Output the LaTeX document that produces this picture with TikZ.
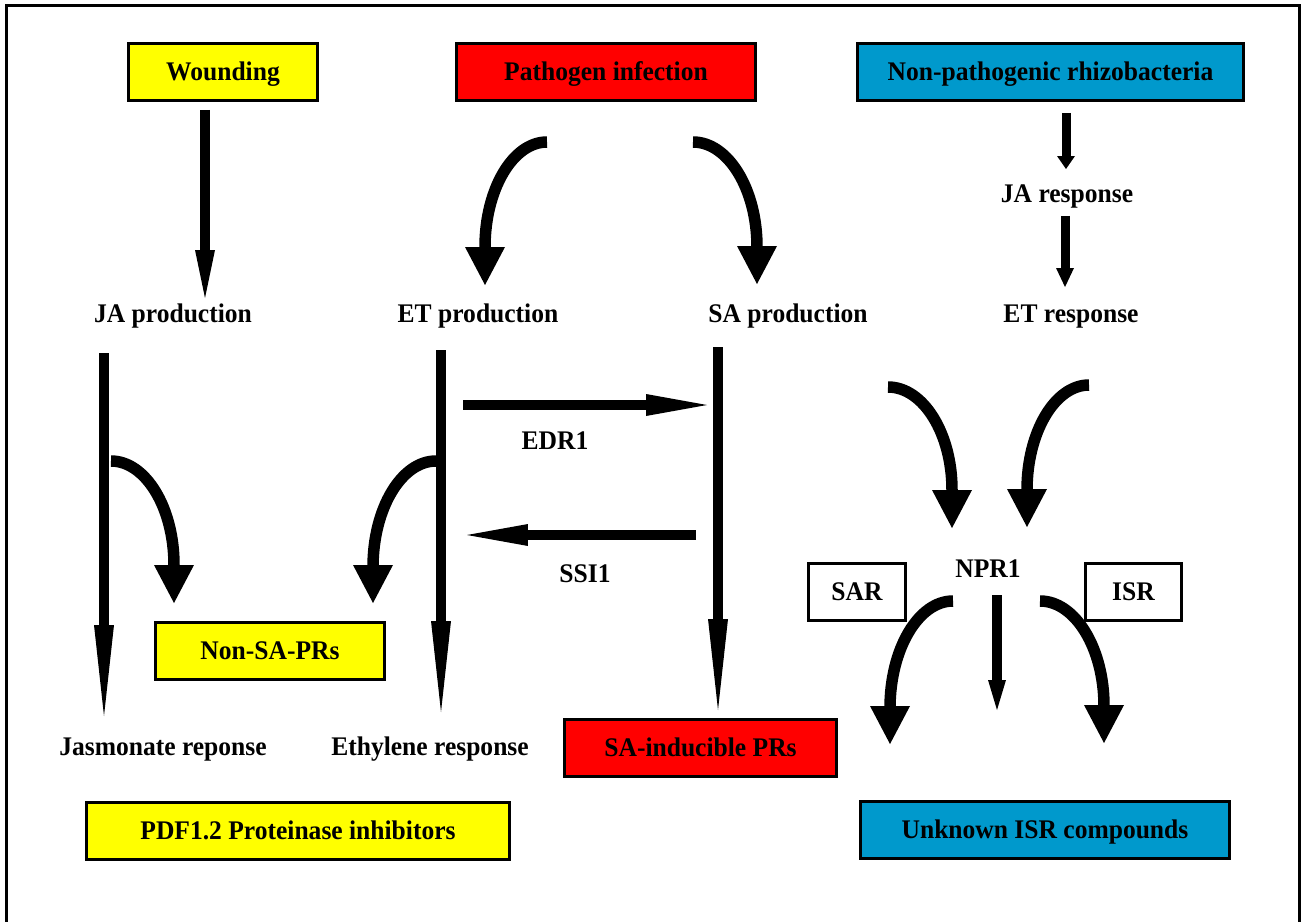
\documentclass[tikz,border=0pt]{standalone}
\usepackage{fontspec}
\setmainfont{Liberation Serif}[FakeStretch=0.95]
\usetikzlibrary{arrows.meta,positioning,calc}
\definecolor{woundyellow}{HTML}{FFFF00}
\definecolor{pathored}{HTML}{FF0000}
\definecolor{rhizoblue}{HTML}{0099CC}
\tikzset{box/.style={draw=black,line width=0.06cm,inner sep=0pt,minimum height=1.14cm,
    text height=10pt,text depth=0pt},
  txt/.style={inner sep=1pt,text height=10pt,text depth=0pt},
  tall/.style={-{Triangle[length=1.82cm,width=0.4cm,line width=0pt]},line width=0.2cm},
  cross/.style={-{Triangle[length=1.22cm,width=0.44cm,line width=0pt]},line width=0.21cm},
  curved/.style={-{Triangle[length=0.76cm,width=0.8cm,line width=0pt]},line width=0.23cm},
  shortarrow/.style={-{Triangle[length=#1,width=0.36cm,line width=0pt]},line width=0.18cm}}

\begin{document}
\begin{tikzpicture}[x=0.02cm,y=-0.02cm,font=\fontsize{15.3pt}{18pt}\selectfont\bfseries]
\useasboundingbox (0,0) rectangle (1301,922);
\draw[line width=0.06cm] (6.5,922) -- (6.5,6) -- (1299,6) -- (1299,922);
% sources
\node[box,fill=woundyellow,minimum width=3.78cm] (wound) at (223,72) {Wounding};
\node[box,fill=pathored,minimum width=5.98cm] (patho) at (606,72) {Pathogen infection};
\node[box,fill=rhizoblue,minimum width=7.72cm] (rhizo) at (1050.5,72) {Non-pathogenic rhizobacteria};
% hormones
\node[txt] (japrod) at (173,314) {JA production};
\node[txt] (etprod) at (478,314) {ET production};
\node[txt] (saprod) at (788,314) {SA production};
\node[txt] (jaresp) at (1067,194) {JA response};
\node[txt] (etresp) at (1071,314) {ET response};
\node[txt] (edr) at (555,441) {EDR1};
\node[txt] (ssi) at (585,574) {SSI1};
\node[txt] (npr) at (988,569) {NPR1};
\node[txt] (jasresp) at (163,747) {Jasmonate reponse};
\node[txt] (ethresp) at (430,747) {Ethylene response};
% outputs
\node[box,fill=woundyellow,minimum width=4.58cm] (nonsa) at (270,651) {Non-SA-PRs};
\node[box,fill=pathored,minimum width=5.44cm] (sapr) at (700.5,748) {SA-inducible PRs};
\node[box,fill=woundyellow,minimum width=8.46cm] (pdf) at (298,831) {PDF1.2 Proteinase inhibitors};
\node[box,fill=white,minimum width=1.94cm] (sar) at (857,592) {SAR};
\node[box,fill=white,minimum width=1.92cm] (isr) at (1133.5,592) {ISR};
\node[box,fill=rhizoblue,minimum width=7.38cm] (unk) at (1045,829.5) {Unknown ISR compounds};

% straight arrows
\coordinate (wd-s) at (205,110); \coordinate (wd-t) at (205,298);
\draw[tall,-{Triangle[length=0.96cm,width=0.4cm,line width=0pt]}] (wd-s) -- (wd-t);
\foreach \n/\x/\sy/\ty in {ja/104/353/716,et/441/350/712,sa/718/347/710}{
  \coordinate (\n-s) at (\x,\sy);
  \coordinate (\n-t) at (\x,\ty);
  \draw[tall] (\n-s) -- (\n-t);
}
\coordinate (edr-s) at (463,405); \coordinate (edr-t) at (707,405);
\coordinate (ssi-s) at (696,535); \coordinate (ssi-t) at (467,535);
\draw[cross] (edr-s) -- (edr-t);
\draw[cross] (ssi-s) -- (ssi-t);
\coordinate (rz1-s) at (1066,113); \coordinate (rz1-t) at (1066,169);
\coordinate (rz2-s) at (1065,216); \coordinate (rz2-t) at (1065,287);
\coordinate (mid-s) at (997,595); \coordinate (mid-t) at (997,710);
\draw[shortarrow=0.26cm] (rz1-s) -- (rz1-t);
\draw[shortarrow=0.38cm] (rz2-s) -- (rz2-t);
\draw[shortarrow=0.6cm,line width=0.2cm] (mid-s) -- (mid-t);

% curved arrows
\foreach \n/\sx/\sy/\ex/\ey/\ty in {pl/547/142/485/247/285,pr/693/142/757/247/284,
    jb/111/461/174/565/603,eb/436/461/373/567/603,rl/888/387/952/490/528,
    rr/1089/385/1027/490/527,nl/953/601/890/708/744,nr/1040/601/1104/706/743}{
  \coordinate (\n-s) at (\sx,\sy);
  \coordinate (\n-e) at (\ex,\ey);
  \coordinate (\n-t) at (\ex,\ty);
  \draw[curved] (\n-s) .. controls ($(\n-s)!.55!(\n-e |- \n-s)$)
    and ($(\n-e)!.55!(\n-e |- \n-s)$) .. (\n-e) -- (\n-t);
}
\end{tikzpicture}
\end{document}
